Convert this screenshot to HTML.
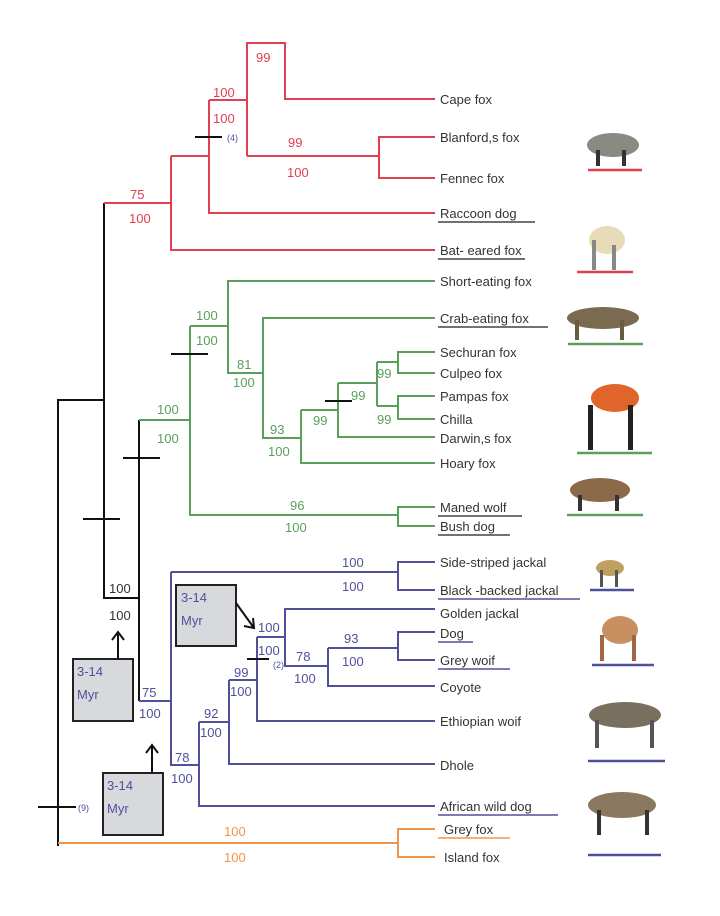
<!DOCTYPE html>
<html><head><meta charset="utf-8"><style>
html,body{margin:0;padding:0;background:#fff}
svg{display:block}
text{font-family:"Liberation Sans",sans-serif;font-size:13px}
.t{fill:#333}
.r{fill:#e0404f}.g{fill:#5aa05a}.b{fill:#50509a}.o{fill:#f0954a}.k{fill:#333}
</style></head><body>
<svg width="720" height="916" viewBox="0 0 720 916" xmlns="http://www.w3.org/2000/svg">
<g fill="none" stroke-width="2">
<!-- black backbone -->
<g stroke="#111">
<polyline points="104,203 104,598 139,598"/>
<polyline points="104,400 58,400 58,846"/>
<line x1="139" y1="420" x2="139" y2="701"/>
<line x1="83" y1="519" x2="120" y2="519"/>
<line x1="123" y1="458" x2="160" y2="458"/>
<line x1="38" y1="807" x2="76" y2="807"/>
</g>
<!-- red -->
<g stroke="#e0404f">
<polyline points="104,203 171,203"/>
<polyline points="171,156 171,250 435,250"/>
<polyline points="171,156 209,156"/>
<polyline points="209,100 209,213 435,213"/>
<polyline points="209,100 247,100"/>
<polyline points="247,156 247,43 285,43 285,99 435,99"/>
<polyline points="247,156 379,156"/>
<polyline points="435,137 379,137 379,178 435,178"/>
</g>
<line x1="195" y1="137" x2="222" y2="137" stroke="#111"/>
<!-- green -->
<g stroke="#5aa05a">
<polyline points="139,420 190,420"/>
<polyline points="190,326 190,515 398,515"/>
<polyline points="435,507 398,507 398,526 435,526"/>
<polyline points="190,326 228,326"/>
<polyline points="435,281 228,281 228,373 263,373"/>
<polyline points="435,318 263,318 263,438 301,438"/>
<polyline points="301,410 301,463 435,463"/>
<polyline points="301,410 338,410"/>
<polyline points="338,383 338,437 435,437"/>
<polyline points="338,383 377,383"/>
<polyline points="377,362 377,406"/>
<polyline points="377,362 398,362"/>
<polyline points="435,352 398,352 398,373 435,373"/>
<polyline points="377,406 398,406"/>
<polyline points="435,396 398,396 398,419 435,419"/>
</g>
<line x1="171" y1="354" x2="208" y2="354" stroke="#111"/>
<line x1="325" y1="401" x2="352" y2="401" stroke="#111"/>
<!-- blue -->
<g stroke="#50509a">
<polyline points="139,701 171,701"/>
<polyline points="171,572 171,765 199,765"/>
<polyline points="171,572 398,572"/>
<polyline points="435,562 398,562 398,590 435,590"/>
<polyline points="199,722 199,806 435,806"/>
<polyline points="199,722 229,722"/>
<polyline points="229,680 229,764 435,764"/>
<polyline points="229,680 257,680"/>
<polyline points="257,637 257,721 435,721"/>
<polyline points="257,637 285,637"/>
<polyline points="435,609 285,609 285,666 328,666"/>
<polyline points="328,648 328,686 435,686"/>
<polyline points="328,648 398,648"/>
<polyline points="435,632 398,632 398,660 435,660"/>
</g>
<line x1="247" y1="659" x2="269" y2="659" stroke="#111"/>
<!-- orange -->
<g stroke="#f0954a">
<polyline points="58,843 398,843"/>
<polyline points="435,829 398,829 398,857 435,857"/>
</g>
<!-- underlines -->
<g stroke-width="1.5">
<line x1="438" y1="222" x2="535" y2="222" stroke="#444"/>
<line x1="438" y1="259" x2="525" y2="259" stroke="#444"/>
<line x1="438" y1="327" x2="548" y2="327" stroke="#444"/>
<line x1="438" y1="516" x2="522" y2="516" stroke="#444"/>
<line x1="438" y1="535" x2="510" y2="535" stroke="#444"/>
<line x1="438" y1="599" x2="580" y2="599" stroke="#50509a"/>
<line x1="438" y1="642" x2="473" y2="642" stroke="#50509a"/>
<line x1="438" y1="669" x2="510" y2="669" stroke="#50509a"/>
<line x1="438" y1="815" x2="558" y2="815" stroke="#50509a"/>
<line x1="438" y1="838" x2="510" y2="838" stroke="#f0954a"/>
</g>
<g stroke-width="2.5">
<line x1="588" y1="170" x2="642" y2="170" stroke="#e0404f"/>
<line x1="577" y1="272" x2="633" y2="272" stroke="#e0404f"/>
<line x1="568" y1="344" x2="643" y2="344" stroke="#5aa05a"/>
<line x1="577" y1="453" x2="652" y2="453" stroke="#5aa05a"/>
<line x1="567" y1="515" x2="643" y2="515" stroke="#5aa05a"/>
<line x1="590" y1="590" x2="634" y2="590" stroke="#50509a"/>
<line x1="592" y1="665" x2="654" y2="665" stroke="#50509a"/>
<line x1="588" y1="761" x2="665" y2="761" stroke="#50509a"/>
<line x1="588" y1="855" x2="661" y2="855" stroke="#50509a"/>
</g>
<!-- boxes -->
<g stroke="#222" fill="#d8d9dd">
<rect x="176" y="585" width="60" height="61"/>
<rect x="73" y="659" width="60" height="62"/>
<rect x="103" y="773" width="60" height="62"/>
</g>
<g stroke="#111">
<line x1="236" y1="603" x2="254" y2="628"/><polyline points="244,626 254,628 253,618"/>
<line x1="118" y1="659" x2="118" y2="632"/><polyline points="112,640 118,632 124,640"/>
<line x1="152" y1="773" x2="152" y2="745"/><polyline points="146,753 152,745 158,753"/>
</g>
</g>
<!-- animals (approx) -->
<g>
<ellipse cx="613" cy="145" rx="26" ry="12" fill="#8a8a82"/><rect x="596" y="150" width="4" height="16" fill="#333"/><rect x="622" y="150" width="4" height="16" fill="#333"/>
<ellipse cx="607" cy="240" rx="18" ry="14" fill="#e8dcb8"/><rect x="592" y="240" width="4" height="30" fill="#888"/><rect x="612" y="245" width="4" height="25" fill="#888"/>
<ellipse cx="603" cy="318" rx="36" ry="11" fill="#7a6a50"/><rect x="575" y="320" width="4" height="20" fill="#6a5a40"/><rect x="620" y="320" width="4" height="20" fill="#6a5a40"/>
<ellipse cx="615" cy="398" rx="24" ry="14" fill="#e0652a"/><rect x="588" y="405" width="5" height="45" fill="#222"/><rect x="628" y="405" width="5" height="45" fill="#222"/>
<ellipse cx="600" cy="490" rx="30" ry="12" fill="#8a6a48"/><rect x="578" y="495" width="4" height="16" fill="#333"/><rect x="615" y="495" width="4" height="16" fill="#333"/>
<ellipse cx="610" cy="568" rx="14" ry="8" fill="#c0a060"/><rect x="600" y="570" width="3" height="17" fill="#555"/><rect x="615" y="570" width="3" height="17" fill="#555"/>
<ellipse cx="620" cy="630" rx="18" ry="14" fill="#c89060"/><rect x="600" y="635" width="4" height="26" fill="#a06840"/><rect x="632" y="635" width="4" height="26" fill="#a06840"/>
<ellipse cx="625" cy="715" rx="36" ry="13" fill="#7a7060"/><rect x="595" y="720" width="4" height="28" fill="#555"/><rect x="650" y="720" width="4" height="28" fill="#555"/>
<ellipse cx="622" cy="805" rx="34" ry="13" fill="#8a7860"/><rect x="597" y="810" width="4" height="25" fill="#333"/><rect x="645" y="810" width="4" height="25" fill="#333"/>
</g>
<!-- tip labels -->
<g class="t">
<text x="440" y="104">Cape fox</text>
<text x="440" y="142">Blanford,s fox</text>
<text x="440" y="183">Fennec fox</text>
<text x="440" y="218">Raccoon dog</text>
<text x="440" y="255">Bat- eared fox</text>
<text x="440" y="286">Short-eating fox</text>
<text x="440" y="323">Crab-eating fox</text>
<text x="440" y="357">Sechuran fox</text>
<text x="440" y="378">Culpeo fox</text>
<text x="440" y="401">Pampas fox</text>
<text x="440" y="424">Chilla</text>
<text x="440" y="443">Darwin,s fox</text>
<text x="440" y="468">Hoary fox</text>
<text x="440" y="512">Maned wolf</text>
<text x="440" y="531">Bush dog</text>
<text x="440" y="567">Side-striped jackal</text>
<text x="440" y="595">Black -backed jackal</text>
<text x="440" y="618">Golden jackal</text>
<text x="440" y="638">Dog</text>
<text x="440" y="665">Grey woif</text>
<text x="440" y="692">Coyote</text>
<text x="440" y="726">Ethiopian woif</text>
<text x="440" y="770">Dhole</text>
<text x="440" y="811">African wild dog</text>
<text x="444" y="834">Grey fox</text>
<text x="444" y="862">Island fox</text>
</g>
<!-- support values -->
<g class="r">
<text x="256" y="62">99</text>
<text x="213" y="97">100</text><text x="213" y="123">100</text>
<text x="288" y="147">99</text><text x="287" y="177">100</text>
<text x="130" y="199">75</text><text x="129" y="223">100</text>
</g>
<text x="227" y="141" class="b" style="font-size:9px">(4)</text>
<g class="g">
<text x="196" y="320">100</text><text x="196" y="345">100</text>
<text x="237" y="369">81</text><text x="233" y="387">100</text>
<text x="270" y="434">93</text><text x="268" y="456">100</text>
<text x="313" y="425">99</text><text x="351" y="400">99</text>
<text x="377" y="378">99</text><text x="377" y="424">99</text>
<text x="157" y="414">100</text><text x="157" y="443">100</text>
<text x="290" y="510">96</text><text x="285" y="532">100</text>
</g>
<g class="b">
<text x="342" y="567">100</text><text x="342" y="591">100</text>
<text x="258" y="632">100</text><text x="258" y="655">100</text>
<text x="273" y="668" style="font-size:9px">(2)</text>
<text x="296" y="661">78</text><text x="294" y="683">100</text>
<text x="344" y="643">93</text><text x="342" y="666">100</text>
<text x="234" y="677">99</text><text x="230" y="696">100</text>
<text x="204" y="718">92</text><text x="200" y="737">100</text>
<text x="175" y="762">78</text><text x="171" y="783">100</text>
<text x="142" y="697">75</text><text x="139" y="718">100</text>
<text x="78" y="811" style="font-size:9px">(9)</text>
<text x="181" y="602">3-14</text><text x="181" y="625">Myr</text>
<text x="77" y="676">3-14</text><text x="77" y="699">Myr</text>
<text x="107" y="790">3-14</text><text x="107" y="813">Myr</text>
</g>
<g class="k">
<text x="109" y="593">100</text><text x="109" y="620">100</text>
</g>
<g class="o">
<text x="224" y="836">100</text><text x="224" y="862">100</text>
</g>
</svg>
</body></html>
